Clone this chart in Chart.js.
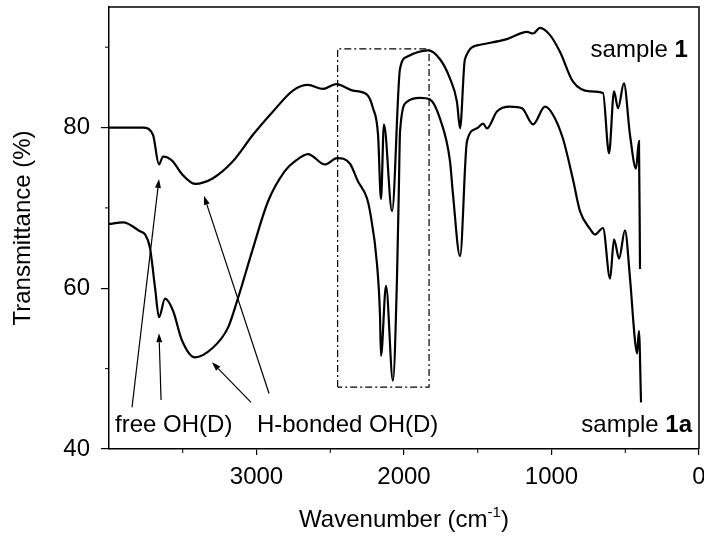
<!DOCTYPE html>
<html>
<head>
<meta charset="utf-8">
<title>IR spectra</title>
<script src="https://cdn.jsdelivr.net/npm/chart.js@4.4.1/dist/chart.umd.min.js"></script>
<style>
  html, body { margin: 0; padding: 0; background: #fff; }
  #wrap { width: 704px; height: 541px; }
</style>
</head>
<body>
<div id="wrap"><canvas id="irChart" width="704" height="541"></canvas></div>
<script>
// spectrum of sample 1 (upper trace)
const wavenumber1 = [4000, 3770, 3702, 3661, 3634, 3573, 3505, 3417, 3295, 3160, 3024, 2888, 2753, 2651,
  2549, 2461, 2346, 2251, 2210, 2176, 2156, 2136, 2081, 2027, 1980, 1837, 1756, 1688, 1641, 1620,
  1587, 1485, 1302, 1166, 1125, 1078, 1010, 942, 854, 739, 651, 610, 576, 549, 509, 468, 427, 407, 400];
const transm1 = [80.0, 80.0, 79.1, 75.4, 76.4, 75.9, 74.2, 73.0, 73.7, 75.8, 79.1, 82.0, 84.6, 85.3,
  84.8, 85.4, 84.6, 84.1, 82.4, 79.1, 71.1, 80.4, 69.6, 87.3, 88.8, 89.6, 88.5, 86.1, 83.2, 79.9,
  88.5, 90.3, 91.0, 91.9, 91.7, 92.4, 91.5, 89.4, 85.7, 84.5, 84.3, 76.8, 84.5, 82.4, 85.5, 79.1, 74.9, 78.3, 62.4];

// spectrum of sample 1a (lower trace)
const wavenumber1a = [4000, 3905, 3790, 3756, 3722, 3688, 3661, 3620, 3566, 3505, 3417, 3302, 3193, 3125,
  3030, 2922, 2807, 2739, 2651, 2536, 2454, 2366, 2312, 2251, 2231, 2183, 2163, 2156, 2122, 2075,
  2048, 2034, 2027, 1980, 1892, 1824, 1756, 1688, 1668, 1620, 1573, 1505, 1464, 1437, 1370, 1281,
  1200, 1125, 1044, 990, 922, 854, 807, 739, 705, 651, 603, 576, 542, 502, 468, 434, 420, 407, 393];
const transm1a = [68.0, 68.2, 67.1, 66.7, 65.0, 60.1, 56.4, 58.7, 57.2, 53.5, 51.4, 52.5, 55.1, 58.8,
  64.6, 70.8, 74.6, 75.8, 76.7, 75.4, 76.2, 75.5, 73.3, 71.2, 69.6, 63.0, 56.8, 51.6, 60.3, 48.5,
  60.9, 73.3, 79.5, 83.2, 83.7, 83.5, 81.1, 75.8, 71.7, 64.0, 78.3, 79.9, 80.5, 79.9, 82.0, 82.6,
  82.4, 80.4, 82.6, 81.6, 78.6, 73.5, 69.6, 67.4, 66.7, 67.5, 61.2, 66.1, 63.7, 67.2, 61.3, 53.5, 51.9, 54.7, 45.8];

// dash-dot frame round the 2450-1830 cm-1 region
const boxWn = [2450, 2450, 1830, 1830, 2450];
const boxT = [47.7, 89.8, 89.8, 47.7, 47.7];

// axis ticks
const xTickValues = [3000, 2000, 1000, 0];
const xMinorTicks = [3500, 2500, 1500, 500];
const yTickValues = [40, 60, 80];
const yMinorTicks = [50, 70, 90];

// arrows: tail -> head, in wavenumber / transmittance
const arrowFromWn = [3844, 3647, 3037, 2915];
const arrowFromT = [45.2, 46.1, 45.8, 46.9];
const arrowToWn = [3661, 3661, 3302, 3356];
const arrowToT = [73.6, 54.4, 50.8, 71.5];

// text labels: [normal part, bold part], anchor and alignment
const labelParts = [['free OH(D)', ''], ['H-bonded OH(D)', ''], ['sample ', '1'], ['sample ', '1a']];
const labelWn = [3959, 2997, 75, 47];
const labelT = [42.1, 42.1, 88.8, 42.1];
const labelAlign = ['left', 'left', 'right', 'right'];

const FONT = "'Liberation Sans', Arial, Helvetica, sans-serif";
Chart.defaults.font.family = FONT;
Chart.defaults.color = '#000';

const pts = (xs, ys) => xs.map((v, i) => ({ x: v, y: ys[i] }));

function drawLine(ctx, x1, y1, x2, y2) {
  ctx.beginPath();
  ctx.moveTo(x1, y1);
  ctx.lineTo(x2, y2);
  ctx.stroke();
}

const decor = {
  id: 'decor',
  afterDatasetsDraw(chart) {
    const { ctx, chartArea: a, scales: { x, y } } = chart;
    ctx.save();
    ctx.strokeStyle = '#000';
    ctx.fillStyle = '#000';

    // top and right edges of the frame
    ctx.lineWidth = 1.5;
    ctx.beginPath();
    ctx.moveTo(a.left, a.top);
    ctx.lineTo(a.right, a.top);
    ctx.lineTo(a.right, a.bottom);
    ctx.stroke();

    // minor ticks
    ctx.lineWidth = 1;
    xMinorTicks.forEach(v => {
      const px = x.getPixelForValue(v);
      drawLine(ctx, px, a.bottom, px, a.bottom + 4);
    });
    yMinorTicks.forEach(v => {
      const py = y.getPixelForValue(v);
      drawLine(ctx, a.left - 4, py, a.left, py);
    });

    // arrows
    ctx.lineWidth = 1.2;
    arrowFromWn.forEach((w, i) => {
      const x1 = x.getPixelForValue(w), y1 = y.getPixelForValue(arrowFromT[i]);
      const x2 = x.getPixelForValue(arrowToWn[i]), y2 = y.getPixelForValue(arrowToT[i]);
      const ang = Math.atan2(y2 - y1, x2 - x1);
      const len = 9, half = 3;
      const bx = x2 - len * Math.cos(ang), by = y2 - len * Math.sin(ang);
      drawLine(ctx, x1, y1, bx, by);
      ctx.beginPath();
      ctx.moveTo(x2, y2);
      ctx.lineTo(bx + half * Math.sin(ang), by - half * Math.cos(ang));
      ctx.lineTo(bx - half * Math.sin(ang), by + half * Math.cos(ang));
      ctx.closePath();
      ctx.fill();
    });

    // labels
    ctx.textBaseline = 'alphabetic';
    labelParts.forEach((parts, i) => {
      const px = x.getPixelForValue(labelWn[i]), py = y.getPixelForValue(labelT[i]);
      ctx.font = '24px ' + FONT;
      const w1 = ctx.measureText(parts[0]).width;
      ctx.font = 'bold 24px ' + FONT;
      const w2 = ctx.measureText(parts[1]).width;
      const start = labelAlign[i] === 'right' ? px - w1 - w2 : px;
      ctx.textAlign = 'left';
      ctx.font = '24px ' + FONT;
      ctx.fillText(parts[0], start, py);
      ctx.font = 'bold 24px ' + FONT;
      ctx.fillText(parts[1], start + w1, py);
    });

    // x axis title with superscript
    const cx = (a.left + a.right) / 2, base = 527;
    const t1 = 'Wavenumber (cm', sup = '-1', t2 = ')';
    ctx.font = '24px ' + FONT;
    const w1 = ctx.measureText(t1).width, w3 = ctx.measureText(t2).width;
    ctx.font = '15px ' + FONT;
    const w2 = ctx.measureText(sup).width;
    let sx = cx - (w1 + w2 + w3) / 2;
    ctx.textAlign = 'left';
    ctx.font = '24px ' + FONT;
    ctx.fillText(t1, sx, base);
    ctx.font = '15px ' + FONT;
    ctx.fillText(sup, sx + w1, base - 10);
    ctx.font = '24px ' + FONT;
    ctx.fillText(t2, sx + w1 + w2, base);

    // y axis title
    ctx.translate(30, (a.top + a.bottom) / 2);
    ctx.rotate(-Math.PI / 2);
    ctx.textAlign = 'center';
    ctx.fillText('Transmittance (%)', 0, 0);
    ctx.restore();
  }
};

const lineStyle = {
  borderColor: '#000',
  borderWidth: 2.2,
  pointRadius: 0,
  fill: false,
  cubicInterpolationMode: 'monotone'
};

new Chart(document.getElementById('irChart'), {
  type: 'line',
  data: {
    datasets: [
      { label: 'sample 1', data: pts(wavenumber1, transm1), ...lineStyle },
      { label: 'sample 1a', data: pts(wavenumber1a, transm1a), ...lineStyle },
      {
        label: 'region',
        data: pts(boxWn, boxT),
        borderColor: '#000',
        borderWidth: 1.2,
        borderDash: [7, 3, 2, 3],
        pointRadius: 0,
        fill: false,
        tension: 0
      }
    ]
  },
  options: {
    responsive: false,
    devicePixelRatio: 1,
    animation: false,
    layout: { padding: { top: 7, right: 5, bottom: 0, left: 0 } },
    plugins: { legend: { display: false }, tooltip: { enabled: false } },
    scales: {
      x: {
        type: 'linear',
        min: 0,
        max: 4000,
        reverse: true,
        afterBuildTicks: s => { s.ticks = xTickValues.map(v => ({ value: v })); },
        afterFit: s => { s.height = 92; s.paddingLeft = 0; s.paddingRight = 0; },
        ticks: { font: { size: 24 }, color: '#000', padding: 8, maxRotation: 0, callback: v => String(v) },
        grid: { drawOnChartArea: false, drawTicks: true, tickLength: 6, color: '#000', lineWidth: 1.2 },
        border: { display: true, color: '#000', width: 1.5 }
      },
      y: {
        type: 'linear',
        min: 40,
        max: 95,
        afterBuildTicks: s => { s.ticks = yTickValues.map(v => ({ value: v })); },
        afterFit: s => { s.width = 109; s.paddingTop = 0; s.paddingBottom = 0; },
        ticks: { font: { size: 24 }, color: '#000', padding: 11, callback: v => String(v) },
        grid: { drawOnChartArea: false, drawTicks: true, tickLength: 8, color: '#000', lineWidth: 1.2 },
        border: { display: true, color: '#000', width: 1.5 }
      }
    }
  },
  plugins: [decor]
});
</script>
</body>
</html>
